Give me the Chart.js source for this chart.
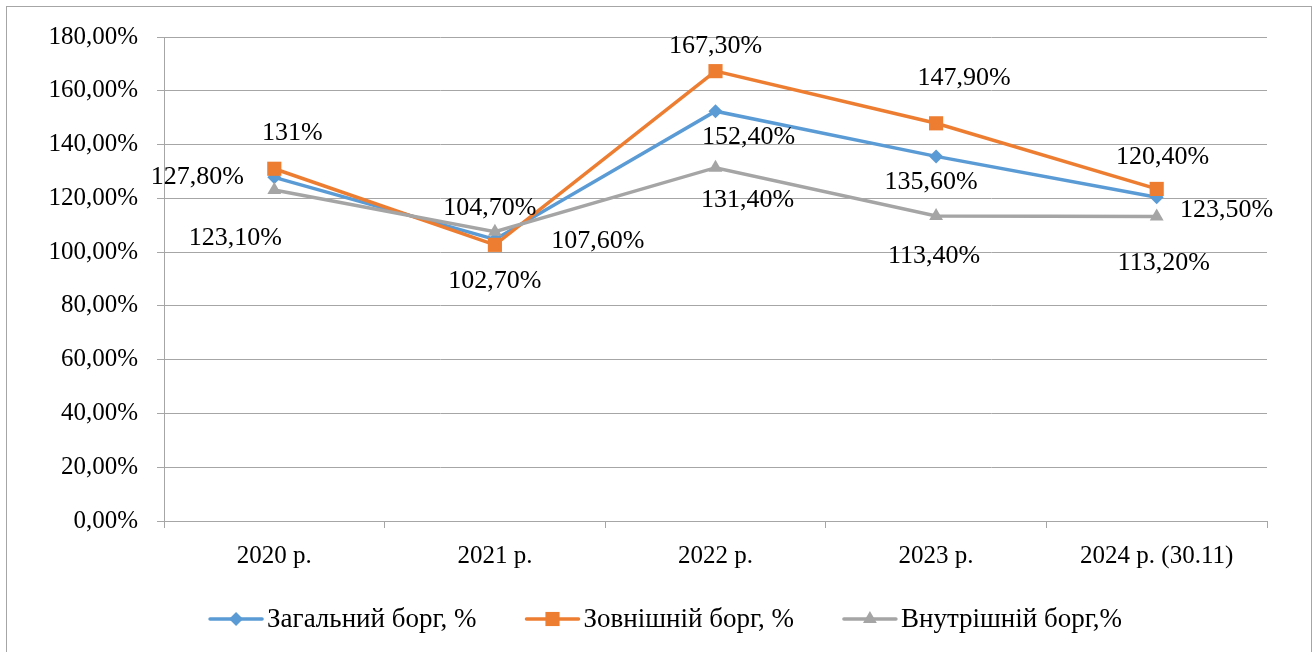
<!DOCTYPE html>
<html>
<head>
<meta charset="utf-8">
<script src="https://cdn.jsdelivr.net/npm/chart.js@4.4.1/dist/chart.umd.min.js"></script>
<style>
  html, body { margin: 0; padding: 0; background: #fff; }
  #wrap { position: relative; width: 1315px; height: 652px; overflow: hidden; }
  #frame { position: absolute; left: 6px; top: 6px; width: 1306px; height: 660px; border: 1px solid #A6A6A6; box-sizing: border-box; pointer-events: none; }
  canvas { position: absolute; left: 0; top: 0; }
</style>
</head>
<body>
<div id="wrap">
  <canvas id="c" width="1315" height="652"></canvas>
  <div id="frame"></div>
</div>
<script>
const categories = ['2020 р.', '2021 р.', '2022 р.', '2023 р.', '2024 р. (30.11)'];
const seriesNames = ['Загальний борг, %', 'Зовнішній борг, %', 'Внутрішній борг,%'];
const totalDebt = [127.8, 104.7, 152.4, 135.6, 120.4];
const externalDebt = [131.0, 102.7, 167.3, 147.9, 123.5];
const internalDebt = [123.1, 107.6, 131.4, 113.4, 113.2];
const totalLabels = ['127,80%', '104,70%', '152,40%', '135,60%', '120,40%'];
const externalLabels = ['131%', '102,70%', '167,30%', '147,90%', '123,50%'];
const internalLabels = ['123,10%', '107,60%', '131,40%', '113,40%', '113,20%'];

// label offsets (style only) relative to each point
const labelOffsets = [
  [[-77, 0], [-5, -31], [33, 26], [-5, 26], [6, -40]],
  [[18, -36], [0, 36], [0, -25], [28, -45], [70, 21]],
  [[-39, 48], [103, 9], [32, 32], [-2, 40], [7, 47]]
];

const FONT = "'Liberation Serif', 'Times New Roman', serif";
const colors = ['#5B9BD5', '#ED7D31', '#A5A5A5'];
const styles = ['rectRot', 'rect', 'triangle'];
const radii = [7, 10, 8];

const labelPlugin = {
  id: 'labelPlugin',
  afterDatasetsDraw(chart) {
    const ctx = chart.ctx;
    ctx.save();
    ctx.font = '26px ' + FONT;
    ctx.fillStyle = '#000';
    ctx.textAlign = 'center';
    ctx.textBaseline = 'middle';
    chart.data.datasets.forEach((ds, di) => {
      const meta = chart.getDatasetMeta(di);
      meta.data.forEach((pt, i) => {
        const off = labelOffsets[di][i];
        ctx.fillText(ds.valueLabels[i], pt.x + off[0], pt.y + off[1]);
      });
    });
    ctx.restore();
  }
};

const legendPlugin = {
  id: 'customLegend',
  afterDraw(chart) {
    const ctx = chart.ctx;
    ctx.save();
    ctx.font = '27px ' + FONT;
    const lineLen = 52, gap = 5, spacing = 50;
    const widths = seriesNames.map(n => ctx.measureText(n).width);
    const total = widths.reduce((a, w) => a + lineLen + gap + w, 0) + spacing * (seriesNames.length - 1);
    let x = 666 - total / 2;
    const y = 619;
    seriesNames.forEach((name, i) => {
      ctx.strokeStyle = colors[i];
      ctx.lineWidth = 3.5;
      ctx.lineCap = 'round';
      ctx.beginPath();
      ctx.moveTo(x, y);
      ctx.lineTo(x + lineLen, y);
      ctx.stroke();
      ctx.fillStyle = colors[i];
      ctx.beginPath();
      Chart.helpers.drawPoint(ctx, { pointStyle: styles[i], radius: radii[i], borderWidth: 0 }, x + lineLen / 2, y);
      ctx.fillStyle = '#000';
      ctx.textAlign = 'left';
      ctx.textBaseline = 'middle';
      ctx.fillText(name, x + lineLen + gap, y + 1);
      x += lineLen + gap + widths[i] + spacing;
    });
    ctx.restore();
  }
};

const seriesValues = [totalDebt, externalDebt, internalDebt];
const seriesLabels = [totalLabels, externalLabels, internalLabels];

new Chart(document.getElementById('c'), {
  type: 'line',
  data: {
    labels: categories,
    datasets: seriesValues.map((vals, i) => ({
      label: seriesNames[i],
      data: vals,
      valueLabels: seriesLabels[i],
      borderColor: colors[i],
      backgroundColor: colors[i],
      borderWidth: 3.5,
      pointStyle: styles[i],
      pointRadius: radii[i],
      pointHoverRadius: radii[i],
      pointBorderWidth: 0,
      pointBackgroundColor: colors[i],
      tension: 0,
      order: 2 - i
    }))
  },
  options: {
    responsive: false,
    animation: false,
    events: [],
    layout: { padding: { left: 0, right: 48, top: 37, bottom: 61 } },
    plugins: {
      legend: { display: false },
      tooltip: { enabled: false }
    },
    scales: {
      x: {
        offset: true,
        grid: { offset: true, drawOnChartArea: false, color: '#A6A6A6', tickLength: 7, lineWidth: 1 },
        border: { color: '#A6A6A6', width: 1 },
        ticks: { color: '#000', font: { family: FONT, size: 25 }, padding: 13, maxRotation: 0, autoSkip: false },
        afterFit(scale) { scale.height = 70; }
      },
      y: {
        min: 0, max: 180,
        grid: { color: '#A6A6A6', tickLength: 7, lineWidth: 1 },
        border: { color: '#A6A6A6', width: 1 },
        ticks: {
          stepSize: 20,
          color: '#000',
          font: { family: FONT, size: 25 },
          padding: 19,
          callback: v => v.toFixed(2).replace('.', ',') + '%'
        },
        afterFit(scale) { scale.width = 164; }
      }
    }
  },
  plugins: [labelPlugin, legendPlugin]
});
</script>
</body>
</html>
